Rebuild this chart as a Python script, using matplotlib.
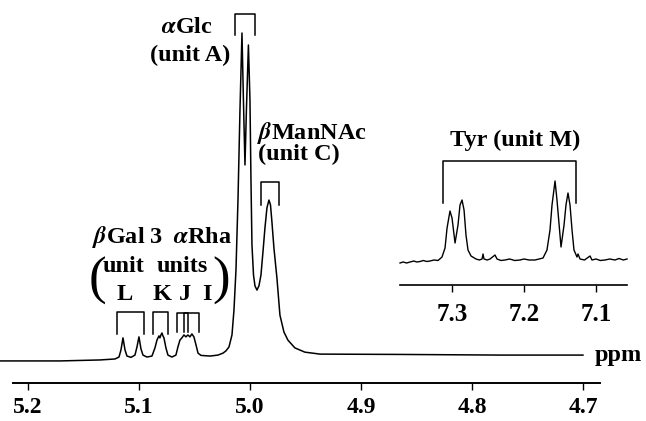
import matplotlib
matplotlib.use("Agg")
import matplotlib.pyplot as plt

plt.rcParams["font.family"] = ["Liberation Serif", "DejaVu Serif"]
plt.rcParams["font.weight"] = "bold"
plt.rcParams["mathtext.fontset"] = "stix"

# main spectrum, 5.2-4.7 ppm (intensity in % of the tallest peak)
main_ppm = [5.2252, 5.1712, 5.1351, 5.1216, 5.1180, 5.1162, 5.1144, 5.1126,
            5.1108, 5.1072, 5.1036, 5.1018, 5.1000, 5.0982, 5.0964, 5.0928,
            5.0883, 5.0856, 5.0838, 5.0820, 5.0811, 5.0802, 5.0793, 5.0784,
            5.0775, 5.0757, 5.0739, 5.0703, 5.0667, 5.0649, 5.0631, 5.0613,
            5.0595, 5.0577, 5.0559, 5.0541, 5.0523, 5.0505, 5.0486, 5.0468,
            5.0441, 5.0360, 5.0288, 5.0243, 5.0216, 5.0189, 5.0162, 5.0144,
            5.0126, 5.0108, 5.0090, 5.0072, 5.0059, 5.0045, 5.0032, 5.0014,
            5.0000, 4.9991, 4.9982, 4.9968, 4.9955, 4.9937, 4.9919, 4.9901,
            4.9883, 4.9865, 4.9847, 4.9829, 4.9815, 4.9802, 4.9784, 4.9757,
            4.9730, 4.9694, 4.9658, 4.9595, 4.9505, 4.9369, 4.8649, 4.7748,
            4.7000]
main_int = [-0.9, -0.9, -0.6, -0.3, 0.3, 2.5, 6.2, 2.5,
            0.6, 0.2, 0.9, 3.4, 6.5, 2.8, 0.9, 0.3,
            0.6, 3.1, 5.5, 6.8, 6.2, 7.1, 7.7, 6.8,
            6.2, 3.1, 0.9, 0.3, 0.9, 3.4, 5.5, 6.2,
            7.1, 6.5, 7.1, 6.5, 7.4, 6.5, 4.0, 1.5,
            0.8, 0.6, 0.9, 1.5, 2.2, 3.4, 7.1, 14.8,
            27.1, 48.6, 76.3, 100.0, 79.4, 59.4, 76.3, 96.3,
            79.4, 54.8, 34.8, 25.5, 22.2, 20.9, 22.2, 25.5,
            32.6, 40.0, 46.2, 48.6, 47.1, 41.8, 33.8, 24.6,
            13.2, 8.0, 5.5, 3.1, 1.8, 1.2, 1.1, 0.9,
            0.9]

# expanded Tyr region, 7.37-7.06 ppm
tyr_ppm = [7.3722, 7.3680, 7.3630, 7.3583, 7.3530, 7.3490, 7.3444, 7.3400,
           7.3350, 7.3306, 7.3250, 7.3194, 7.3139, 7.3097, 7.3069, 7.3028,
           7.3000, 7.2958, 7.2917, 7.2889, 7.2861, 7.2833, 7.2806, 7.2778,
           7.2736, 7.2667, 7.2620, 7.2583, 7.2569, 7.2556, 7.2510, 7.2472,
           7.2403, 7.2375, 7.2320, 7.2264, 7.2200, 7.2130, 7.2056, 7.2000,
           7.1930, 7.1847, 7.1790, 7.1736, 7.1681, 7.1639, 7.1611, 7.1569,
           7.1542, 7.1486, 7.1444, 7.1417, 7.1389, 7.1361, 7.1333, 7.1306,
           7.1264, 7.1250, 7.1222, 7.1160, 7.1083, 7.1056, 7.1000, 7.0940,
           7.0875, 7.0810, 7.0736, 7.0680, 7.0620, 7.0569]
tyr_int = [-3, -2, -3, -2, -1, -2, -1.5, -0.5,
           -1.5, -1, 0, -0.5, 3, 12, 32, 49,
           42, 17, 35, 55, 60, 50, 25, 10,
           4, 1, 0, 1, 6, 1, 0, 1,
           5, 1, -0.5, 0, 1, -0.5, 0, 1,
           0, 0, 1, 2, 10, 30, 55, 79,
           60, 13, 35, 55, 67, 55, 30, 10,
           3, 6, 1, 0, 4, 0, 1, -0.5,
           0, 1, 0, 1.5, 0, 1]

main_ticks = [5.2, 5.1, 5.0, 4.9, 4.8, 4.7]
main_tick_labels = ["5.2", "5.1", "5.0", "4.9", "4.8", "4.7"]
tyr_ticks = [7.3, 7.2, 7.1]
tyr_tick_labels = ["7.3", "7.2", "7.1"]

fig = plt.figure(figsize=(6.46, 4.21), dpi=100)
ax = fig.add_axes([0, 38 / 421, 1, 383 / 421])
ax.plot(main_ppm, main_int, color="black", lw=1.1)
ax.set_xlim(5.2252, 4.6432)
ax.set_ylim(-7.69, 110.15)
for s in ["top", "left", "right"]:
    ax.spines[s].set_visible(False)
ax.spines["bottom"].set_bounds(5.2135, 4.6847)
ax.spines["bottom"].set_linewidth(1.4)
ax.set_yticks([])
ax.set_xticks(main_ticks)
ax.set_xticklabels(main_tick_labels)
ax.tick_params(axis="x", direction="out", length=5, width=1, pad=5,
               labelsize=17)
ax.patch.set_visible(False)


def bracket(a, x0, x1, top, bottom):
    a.plot([x0, x0, x1, x1], [bottom, top, top, bottom], color="black",
           lw=1.1, clip_on=False)


bracket(ax, 5.0135, 4.9955, 105.8, 99.4)
bracket(ax, 4.9901, 4.9739, 54.2, 47.1)
bracket(ax, 5.1198, 5.0955, 14.2, 7.4)
bracket(ax, 5.0874, 5.0739, 14.2, 7.4)
bracket(ax, 5.0658, 5.0559, 13.8, 8.0)
bracket(ax, 5.0595, 5.0459, 13.8, 8.0)

fs = 17.5
ax.text(5.0568, 101.8, r"$\alpha$Glc", ha="center", va="center", fontsize=fs)
ax.text(5.054, 93.2, "(unit A)", ha="center", va="center", fontsize=fs)
ax.text(4.9937, 69.2, r"$\beta$ManNAc", ha="left", va="center", fontsize=fs)
ax.text(4.9928, 62.5, "(unit C)", ha="left", va="center", fontsize=fs)
ax.text(5.1423, 37.2, r"$\beta$Gal", ha="left", va="center", fontsize=fs)
ax.text(5.0847, 37.2, "3", ha="center", va="center", fontsize=fs)
ax.text(5.0162, 37.2, r"$\alpha$Rha", ha="right", va="center", fontsize=fs)
ax.text(5.114, 28.3, "unit", ha="center", va="center", fontsize=fs)
ax.text(5.0608, 28.3, "units", ha="center", va="center", fontsize=fs)
for lab, x in zip(["L", "K", "J", "I"], [5.1126, 5.0793, 5.0586, 5.0387]):
    ax.text(x, 19.4, lab, ha="center", va="center", fontsize=fs)
ax.text(5.1378, 23.6, "(", ha="center", va="center", fontsize=38,
        fontweight="normal")
ax.text(5.0261, 23.6, ")", ha="center", va="center", fontsize=38,
        fontweight="normal")
ax.text(4.6892, 0.9, "ppm", ha="left", va="center", fontsize=fs)

ins = fig.add_axes([395 / 646, 136 / 421, 237 / 646, 160 / 421])
ins.plot(tyr_ppm, tyr_int, color="black", lw=1.0)
ins.set_xlim(7.3792, 7.05)
ins.set_ylim(-25, 135)
for s in ["top", "left", "right"]:
    ins.spines[s].set_visible(False)
ins.spines["bottom"].set_bounds(7.3722, 7.0569)
ins.spines["bottom"].set_linewidth(1.2)
ins.set_yticks([])
ins.set_xticks(tyr_ticks)
ins.set_xticklabels(tyr_tick_labels)
ins.tick_params(axis="x", direction="out", length=5, width=1, pad=8,
                labelsize=18)
ins.patch.set_visible(False)
bracket(ins, 7.3125, 7.1278, 99, 57)
ins.text(7.2125, 120, "Tyr (unit M)", ha="center", va="center", fontsize=fs)

fig.savefig("out.png", dpi=100)
